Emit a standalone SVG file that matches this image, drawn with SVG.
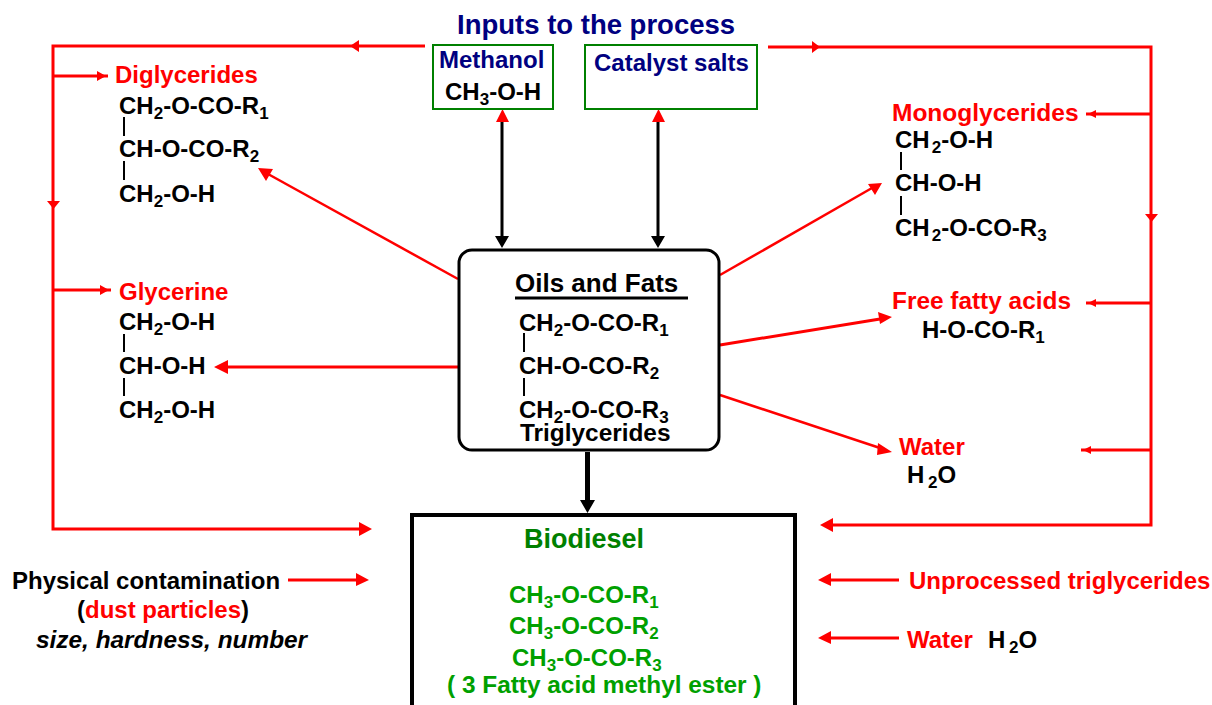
<svg xmlns="http://www.w3.org/2000/svg" width="1212" height="705" viewBox="0 0 1212 705">
<style>
text{font-family:"Liberation Sans",Arial,sans-serif;font-weight:bold;font-size:24px;fill:#000}
.r{fill:#f00}.n{fill:#000080}.g{fill:#008000}.l{fill:#00a000}
.s{font-size:17px}
.w{font-size:24.400px}
.rl{fill:none;stroke:#f00;stroke-width:3}
.rt{fill:none;stroke:#f00;stroke-width:2.500}
.k{fill:none;stroke:#000;stroke-width:3}
.bond{stroke:#000;stroke-width:2;fill:none}
.ah{fill:#f00}.ak{fill:#000}
</style>
<g id="connectors">
<path class="rl" d="M425 46H53V529H360"/>
<path class="rl" d="M53 76H108M53 290H111"/>
<path class="rl" d="M768 47H1151V525H830"/>
<path class="rl" d="M1151 114H1086M1151 303H1086M1151 450H1081"/>
<path class="rl" d="M288 580H358M899 580H830M899 638H830"/>
<path class="rt" d="M458 279L268 174"/>
<path class="rl" d="M458 367H226"/>
<path class="rt" d="M720 275L872 188"/>
<path class="rl" d="M720 345L880 319"/>
<path class="rt" d="M720 395L880 448"/>
<path class="k" d="M502 122V238M658 122V238"/>
<path d="M587.500 452V502" fill="none" stroke="#000" stroke-width="5"/>
<path class="ah" d="M350 46l9-6v12zM106 76l-9-5v10zM109 290l-9-5v10zM47 201h13l-6.500 8zM820 47l-8-6v12zM1145 214h13l-6.500 8zM1088 114l8-4v8zM1088 303l8-4v8zM1083 450l8-4v8z"/>
<path class="ah" d="M372 529l-13-7v14zM369 580l-13-7v13zM818 580l13-7v13zM818 638l13-7v13zM820 525l13-7v14zM214 367l14-7v14zM258 168l15 1-7 12zM882 183l-14 1 7 11zM892 317l-14-5 2 12zM892 452l-14-9-1 12zM496 122h13l-6.500-13zM652 122h13l-6.500-13z"/>
<path class="ak" d="M495 236h14l-7 12zM651 236h14l-7 12zM580 500h15l-7.500 13z"/>
</g>
<text class="n" x="457" y="34" style="font-size:27.500px">Inputs to the process</text>
<g id="methanol"><rect x="433" y="45" width="120" height="64" fill="#fff" stroke="#008000" stroke-width="2"/><text class="n" x="439" y="68">Methanol</text><text x="445" y="100">CH<tspan class="s" dy="5">3</tspan><tspan dy="-5">-O-H</tspan></text></g>
<g id="catalyst"><rect x="585" y="45" width="172" height="64" fill="#fff" stroke="#008000" stroke-width="2"/><text class="n" x="594" y="71">Catalyst salts</text></g>
<g id="diglycerides"><text class="r" x="115" y="83">Diglycerides</text><text x="119" y="114">CH<tspan class="s" dy="5">2</tspan><tspan dy="-5">-O-CO-R</tspan><tspan class="s" dy="5">1</tspan></text><path class="bond" d="M124 117V136M124 161V180"/><text x="119" y="157">CH-O-CO-R<tspan class="s" dy="5">2</tspan></text><text x="119" y="202">CH<tspan class="s" dy="5">2</tspan><tspan dy="-5">-O-H</tspan></text></g>
<g id="glycerine"><text class="r" x="119" y="300">Glycerine</text><text x="119" y="330">CH<tspan class="s" dy="5">2</tspan><tspan dy="-5">-O-H</tspan></text><path class="bond" d="M124 334V352M124 378V396"/><text x="119" y="374">CH-O-H</text><text x="119" y="418">CH<tspan class="s" dy="5">2</tspan><tspan dy="-5">-O-H</tspan></text></g>
<g id="monoglycerides"><text class="r" x="892" y="121" style="font-size:24.500px">Monoglycerides</text><text x="895" y="148">CH<tspan class="s" dy="5" dx="2">2</tspan><tspan dy="-5">-O-H</tspan></text><path class="bond" d="M901 152V170M901 196V215"/><text x="895" y="191">CH-O-H</text><text x="895" y="236">CH<tspan class="s" dy="5" dx="2">2</tspan><tspan dy="-5">-O-CO-R</tspan><tspan class="s" dy="5">3</tspan></text></g>
<g id="ffa"><text class="r w" x="892" y="309">Free fatty acids</text><text x="922" y="338">H-O-CO-R<tspan class="s" dy="5">1</tspan></text></g>
<g id="water"><text class="r" x="899" y="455">Water</text><text x="907" y="483">H <tspan class="s" dy="5" dx="-3">2</tspan><tspan dy="-5">O</tspan></text></g>
<g id="oils"><rect x="459" y="250" width="260" height="200" rx="13" fill="#fff" stroke="#000" stroke-width="3"/><text x="515" y="292" style="font-size:26px">Oils and Fats</text><path d="M515 298H688" stroke="#000" stroke-width="3"/><text x="519" y="331">CH<tspan class="s" dy="5">2</tspan><tspan dy="-5">-O-CO-R</tspan><tspan class="s" dy="5">1</tspan></text><path class="bond" d="M524 333V352M524 378V396"/><text x="519" y="374">CH-O-CO-R<tspan class="s" dy="5">2</tspan></text><text x="519" y="418">CH<tspan class="s" dy="5">2</tspan><tspan dy="-5">-O-CO-R</tspan><tspan class="s" dy="5">3</tspan></text><text class="w" x="520" y="441">Triglycerides</text></g>
<g id="biodiesel"><path d="M412 705V515H795V705" fill="#fff" stroke="#000" stroke-width="4"/><text class="g" x="524" y="548" style="font-size:27px">Biodiesel</text><text class="l" x="509" y="603">CH<tspan class="s" dy="5">3</tspan><tspan dy="-5">-O-CO-R</tspan><tspan class="s" dy="5">1</tspan></text><text class="l" x="509" y="634">CH<tspan class="s" dy="5">3</tspan><tspan dy="-5">-O-CO-R</tspan><tspan class="s" dy="5">2</tspan></text><text class="l" x="512" y="666">CH<tspan class="s" dy="5">3</tspan><tspan dy="-5">-O-CO-R</tspan><tspan class="s" dy="5">3</tspan></text><text class="l w" x="447" y="693">( 3 Fatty acid methyl ester )</text></g>
<g id="physical"><text x="12" y="589">Physical contamination</text><text x="77" y="618">(<tspan class="r">dust particles</tspan>)</text><text class="w" x="36" y="648" font-style="italic">size, hardness, number</text></g>
<g id="unprocessed"><text class="r" x="909" y="589">Unprocessed triglycerides</text></g>
<g id="water2"><text class="r" x="907" y="648">Water</text><text x="988" y="648">H <tspan class="s" dy="5" dx="-3">2</tspan><tspan dy="-5">O</tspan></text></g>
</svg>
